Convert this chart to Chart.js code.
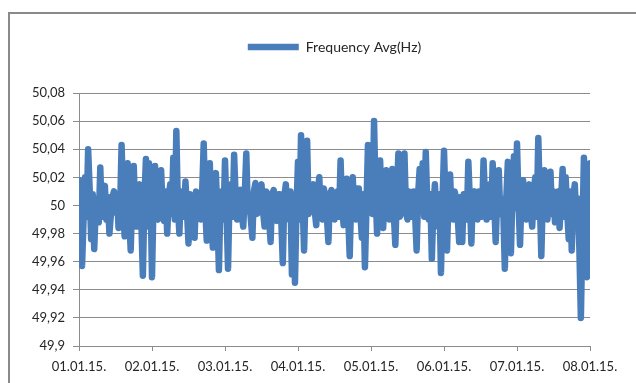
<!DOCTYPE html>
<html>
<head>
<meta charset="utf-8">
<script src="https://cdn.jsdelivr.net/npm/chart.js@4"></script>
<style>
  body { margin: 0; background: #fff; }
  canvas { display: block; }
</style>
</head>
<body>
<canvas id="myChart" width="636" height="383"></canvas>
<script>
const dayLabels = ["01.01.15.", "02.01.15.", "03.01.15.", "04.01.15.", "05.01.15.", "06.01.15.", "07.01.15.", "08.01.15."];
const yTicks = [49.9, 49.92, 49.94, 49.96, 49.98, 50, 50.02, 50.04, 50.06, 50.08];
const yTickLabels = ["49,9", "49,92", "49,94", "49,96", "49,98", "50", "50,02", "50,04", "50,06", "50,08"];
const pointsPerDay = 24;

// readings on the hour
const day1 = [50.018, 49.957, 50.020, 50.040, 49.976, 49.969, 50.005, 50.027, 50.010, 49.990, 49.980, 50.006, 49.995, 49.984, 50.043, 49.978, 50.030, 49.968, 50.028, 49.985, 50.015, 49.950, 50.033, 50.030];
const day2 = [49.949, 50.028, 49.990, 50.025, 49.989, 49.980, 50.015, 50.034, 50.053, 49.980, 50.005, 50.017, 49.973, 50.000, 49.977, 50.005, 49.990, 50.044, 49.975, 50.030, 49.970, 50.023, 49.954, 50.010];
const day3 = [50.032, 49.955, 50.015, 50.036, 49.990, 50.011, 49.985, 50.037, 50.005, 49.977, 50.016, 49.995, 50.015, 49.985, 50.008, 49.974, 50.011, 49.989, 50.008, 49.959, 50.015, 49.990, 49.951, 49.945];
const day4 = [50.031, 50.050, 49.968, 50.046, 50.000, 50.015, 49.986, 50.020, 49.990, 50.005, 49.974, 50.011, 49.990, 50.010, 50.032, 49.986, 50.019, 49.964, 50.020, 49.990, 50.012, 49.977, 49.956, 50.043];
const day5 = [50.030, 50.060, 49.980, 50.032, 49.984, 50.025, 49.990, 50.026, 49.972, 50.037, 49.995, 50.037, 49.990, 50.005, 50.010, 49.968, 50.026, 50.030, 50.038, 49.990, 49.962, 50.015, 49.985, 49.952];
const day6 = [50.039, 49.968, 50.022, 49.990, 50.005, 49.974, 49.974, 50.000, 50.031, 49.973, 50.010, 49.990, 50.005, 50.032, 49.990, 50.015, 50.030, 49.974, 50.025, 50.005, 49.955, 50.031, 49.966, 50.035];
const day7 = [50.044, 49.972, 50.018, 49.990, 50.015, 49.985, 50.020, 50.048, 49.964, 50.025, 49.990, 50.024, 50.010, 49.994, 49.984, 50.026, 50.020, 49.976, 49.968, 50.015, 50.005, 49.920, 50.034, 49.949, 50.030];

// readings on the half hour (the dense band round 50 Hz)
const day1Half = [49.985, 49.990, 49.992, 50.012, 50.008, 49.998, 49.988, 49.992, 50.014, 50.006, 49.994, 50.010, 50.008, 49.996, 50.004, 50.012, 49.992, 50.006, 49.994, 50.008, 49.988, 50.004, 49.985, 50.012];
const day2Half = [50.004, 49.992, 50.012, 49.996, 50.010, 50.006, 49.994, 49.990, 50.000, 50.010, 49.992, 49.996, 50.008, 49.988, 50.010, 49.994, 50.010, 49.998, 50.004, 49.990, 50.010, 49.994, 50.004, 49.990];
const day3Half = [49.996, 50.008, 49.992, 50.006, 50.010, 49.994, 50.008, 49.996, 49.990, 50.010, 49.994, 50.010, 49.996, 50.010, 49.990, 50.008, 49.994, 50.008, 49.990, 50.006, 49.994, 50.010, 50.002, 49.998];
const day4Half = [49.990, 50.004, 50.010, 49.994, 50.012, 49.996, 50.010, 49.994, 50.012, 49.992, 50.008, 49.994, 50.008, 49.992, 49.998, 50.010, 49.992, 50.006, 49.996, 50.012, 49.994, 50.008, 49.998, 50.004];
const day5Half = [49.994, 50.010, 50.006, 49.996, 50.010, 49.994, 50.012, 49.994, 50.008, 49.992, 50.012, 49.996, 50.010, 49.992, 49.994, 50.008, 49.996, 49.992, 50.002, 50.008, 49.998, 49.992, 50.008, 50.002];
const day6Half = [50.004, 50.008, 49.994, 50.010, 49.992, 50.006, 50.008, 49.990, 50.004, 50.008, 49.994, 50.010, 49.992, 50.004, 50.010, 49.992, 50.002, 50.006, 49.994, 49.996, 50.006, 49.996, 50.008, 49.998];
const day7Half = [50.002, 50.008, 49.994, 50.010, 49.994, 50.010, 49.992, 50.004, 50.008, 49.994, 50.010, 49.994, 49.988, 50.010, 50.004, 49.992, 49.996, 50.010, 50.006, 49.990, 49.970, 49.980, 49.990, 49.998];

const horas = [].concat(day1, day2, day3, day4, day5, day6, day7);
const mediasHoras = [].concat(day1Half, day2Half, day3Half, day4Half, day5Half, day6Half, day7Half);

// interleave hour and half-hour readings, x measured in days
const puntos = [];
horas.forEach((v, i) => {
  puntos.push({ x: i / pointsPerDay, y: v });
  if (i < mediasHoras.length) {
    puntos.push({ x: (i + 0.5) / pointsPerDay, y: mediasHoras[i] });
  }
});

const gridColor = "#8c8c8c";
const textColor = "#262626";
const fontFamily = "Lato, 'Open Sans', sans-serif";

// white background + the grey chart-area frame (cut off on the right and bottom)
const marco = {
  id: "marco",
  beforeDraw(chart) {
    const ctx = chart.ctx;
    ctx.save();
    ctx.fillStyle = "#fff";
    ctx.fillRect(0, 0, chart.width, chart.height);
    ctx.strokeStyle = "#8a8a8a";
    ctx.lineWidth = 2;
    ctx.strokeRect(9, 13, 700, 500);
    ctx.restore();
  },
};

const ctx = document.getElementById("myChart").getContext("2d");

new Chart(ctx, {
  type: "line",
  data: {
    datasets: [
      {
        label: "Frequency Avg(Hz)",
        data: puntos,
        borderColor: "#4a7ebb",
        backgroundColor: "#4a7ebb",
        borderWidth: 6.5,
        borderJoinStyle: "round",
        borderCapStyle: "round",
        pointRadius: 0,
        tension: 0,
      },
    ],
  },
  options: {
    responsive: false,
    devicePixelRatio: 1,
    animation: false,
    layout: {
      padding: { top: 30, left: 0, right: 46, bottom: 0 },
    },
    plugins: {
      legend: {
        position: "top",
        fullSize: false,
        labels: {
          usePointStyle: true,
          pointStyle: "line",
          pointStyleWidth: 51,
          padding: 10,
          color: textColor,
          font: { family: fontFamily, size: 14 },
        },
      },
      // empty title used as a spacer between legend and plot
      title: {
        display: true,
        text: "",
        fullSize: false,
        weight: 500,
        font: { size: 10 },
        padding: { top: 0, bottom: 17 },
      },
      tooltip: { enabled: false },
    },
    scales: {
      x: {
        type: "linear",
        min: 0,
        max: 7,
        afterFit: (scale) => {
          scale.height = 37;
        },
        afterBuildTicks: (scale) => {
          scale.ticks = dayLabels.map((d, i) => ({ value: i }));
        },
        ticks: {
          padding: 8,
          maxRotation: 0,
          autoSkip: false,
          color: textColor,
          font: { family: fontFamily, size: 13 },
          callback: (value) => dayLabels[value],
        },
        grid: {
          drawOnChartArea: false,
          tickLength: 5,
          color: gridColor,
        },
        border: { color: gridColor, width: 1 },
      },
      y: {
        min: 49.9,
        max: 50.08,
        afterFit: (scale) => {
          scale.width = 79;
        },
        afterBuildTicks: (scale) => {
          scale.ticks = yTicks.map((v) => ({ value: v }));
        },
        ticks: {
          padding: 8,
          color: textColor,
          font: { family: fontFamily, size: 13 },
          callback: (value, index) => yTickLabels[index],
        },
        grid: {
          color: gridColor,
          tickLength: 6,
        },
        border: { color: gridColor, width: 1 },
      },
    },
  },
  plugins: [marco],
});
</script>
</body>
</html>
